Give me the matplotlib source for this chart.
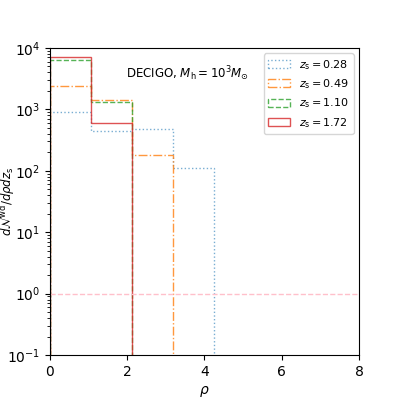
import numpy as np
import matplotlib.pyplot as plt

# bin edges in rho and histogram heights per source redshift
edges = [0.0, 1.06, 2.12, 3.18, 4.24]
zs_labels = ['0.28', '0.49', '1.10', '1.72']
h_028 = [910, 450, 470, 112]
h_049 = [2380, 1420, 181, 0]
h_110 = [6300, 1320, 0, 0]
h_172 = [7100, 610, 0, 0]

series = [h_028, h_049, h_110, h_172]
colors = ['tab:blue', 'tab:orange', 'tab:green', 'tab:red']
styles = [':', '-.', '--', '-']
alphas = [0.6, 0.8, 0.8, 0.8]

fig, ax = plt.subplots(figsize=(3.99, 3.99), dpi=100)
centers = 0.5 * (np.array(edges[:-1]) + np.array(edges[1:]))
for h, lab, c, ls, a in zip(series, zs_labels, colors, styles, alphas):
    ax.hist(centers, bins=edges, weights=h, histtype='step', color=c,
            linestyle=ls, alpha=a, label=r'$z_{\rm s}=%s$' % lab)

ax.axhline(1, color='pink', linestyle='--', linewidth=1)
ax.set_yscale('log')
ax.set_xlim(0, 8)
ax.set_ylim(1e-1, 1e4)
ax.set_xlabel(r'$\rho$')
ax.set_ylabel(r'$d\mathcal{N}^{\rm wd}/d\rho dz_{\rm s}$', fontsize=8.5)
ax.yaxis.set_label_coords(-0.105, 0.5)
ax.text(0.445, 0.915, r'DECIGO, $M_{\rm h}=10^3M_{\odot}$', transform=ax.transAxes,
        ha='center', va='center', fontsize=8.5)
ax.legend(loc='upper right', fontsize=8)

plt.savefig('out.png')
